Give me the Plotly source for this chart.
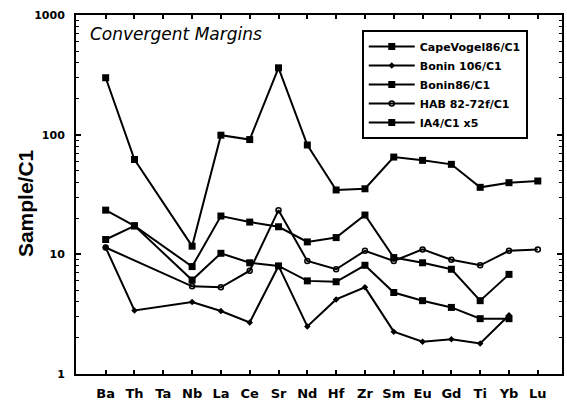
import plotly.graph_objects as go

# Elements in spider-diagram order (chondrite normalised)
elements = ["Ba", "Th", "Ta", "Nb", "La", "Ce", "Sr", "Nd", "Hf", "Zr",
            "Sm", "Eu", "Gd", "Ti", "Yb", "Lu"]

# None = not analysed
ia4_x5 = [299, 62, None, 11.7, 99, 91, 362, 82, 34.5, 35.3, 65, 61, 56.5, 36.3, 39.7, 41]
cape_vogel86 = [23.4, 17.3, None, 7.9, 20.9, 18.6, 17.0, 12.7, 13.8, 21.3, 9.4, 8.5, 7.5, 4.1, 6.8, None]
bonin86 = [13.3, 17.3, None, 6.1, 10.2, 8.5, 8.0, 6.0, 5.9, 8.1, 4.8, 4.1, 3.6, 2.9, 2.9, None]
hab_82_72f = [11.4, None, None, 5.4, 5.3, 7.3, 23.4, 8.8, 7.5, 10.7, 8.8, 11.0, 9.0, 8.1, 10.7, 11.0]
bonin106 = [11.4, 3.4, None, 4.0, 3.36, 2.7, 8.0, 2.5, 4.2, 5.3, 2.26, 1.86, 1.95, 1.8, 3.1, None]

series = [
    ("CapeVogel86/C1", cape_vogel86, dict(symbol="square", size=7)),
    ("Bonin 106/C1", bonin106, dict(symbol="diamond", size=5)),
    ("Bonin86/C1", bonin86, dict(symbol="square", size=7)),
    ("HAB 82-72f/C1", hab_82_72f, dict(symbol="circle-open", size=5, line=dict(width=1.5, color="black"))),
    ("IA4/C1 x5", ia4_x5, dict(symbol="square", size=7)),
]

fig = go.Figure()
for name, vals, mk in series:
    fig.add_trace(go.Scatter(
        x=elements, y=vals, name=name, mode="lines+markers",
        connectgaps=True,
        line=dict(color="black", width=2),
        marker=dict(color="black", **mk),
    ))

# intermediate log ticks (2..9 in each decade) on an overlaid axis
minor_vals = [m * 10 ** k for k in range(3) for m in range(2, 10)]

fig.update_layout(
    width=567, height=400,
    margin=dict(l=76, r=5, t=15, b=26),
    paper_bgcolor="white", plot_bgcolor="white",
    showlegend=True,
    legend=dict(
        x=0.588, y=0.958, xanchor="left", yanchor="top",
        bordercolor="black", borderwidth=2, bgcolor="white",
        font=dict(family="DejaVu Sans", size=11, color="black", weight="bold"),
        tracegroupgap=0, itemwidth=46,
    ),
    xaxis=dict(
        type="category", categoryorder="array", categoryarray=elements,
        range=[-1.03, 15.84], automargin=False,
        showline=True, linewidth=2, linecolor="black", mirror="ticks",
        ticks="inside", ticklen=4, tickwidth=1.5, tickcolor="black",
        showgrid=False, zeroline=False, ticklabelstandoff=6,
        tickfont=dict(family="DejaVu Sans", size=13, color="black", weight="bold"),
    ),
    yaxis=dict(
        type="log", range=[0, 3], dtick=1, automargin=False,
        showline=True, linewidth=2, linecolor="black", mirror="ticks",
        ticks="inside", ticklen=5, tickwidth=1.5, tickcolor="black",
        showgrid=False, zeroline=False, ticklabelstandoff=7,
        tickfont=dict(family="DejaVu Sans", size=11, color="black", weight="bold"),
    ),
    yaxis2=dict(
        type="log", range=[0, 3], overlaying="y", side="left", automargin=False,
        tickvals=minor_vals, showticklabels=False,
        ticks="inside", ticklen=3, tickwidth=1, tickcolor="black",
        showline=False, mirror="ticks", showgrid=False, zeroline=False,
    ),
)

# invisible trace to activate the overlaid tick axis
fig.add_trace(go.Scatter(x=[elements[0]], y=[None], yaxis="y2",
                         showlegend=False, hoverinfo="skip"))

fig.add_annotation(
    text="Sample/C1", xref="paper", yref="paper",
    x=-0.105, y=0.476, xanchor="center", yanchor="middle", textangle=-90,
    showarrow=False,
    font=dict(family="Liberation Sans", size=21, color="black", weight="bold"),
)

fig.add_annotation(
    text="Convergent Margins", xref="paper", yref="paper",
    x=0.025, y=0.98, xanchor="left", yanchor="top", showarrow=False,
    font=dict(family="DejaVu Sans", size=17, color="black", style="italic"),
)

fig.write_html("out.html")
